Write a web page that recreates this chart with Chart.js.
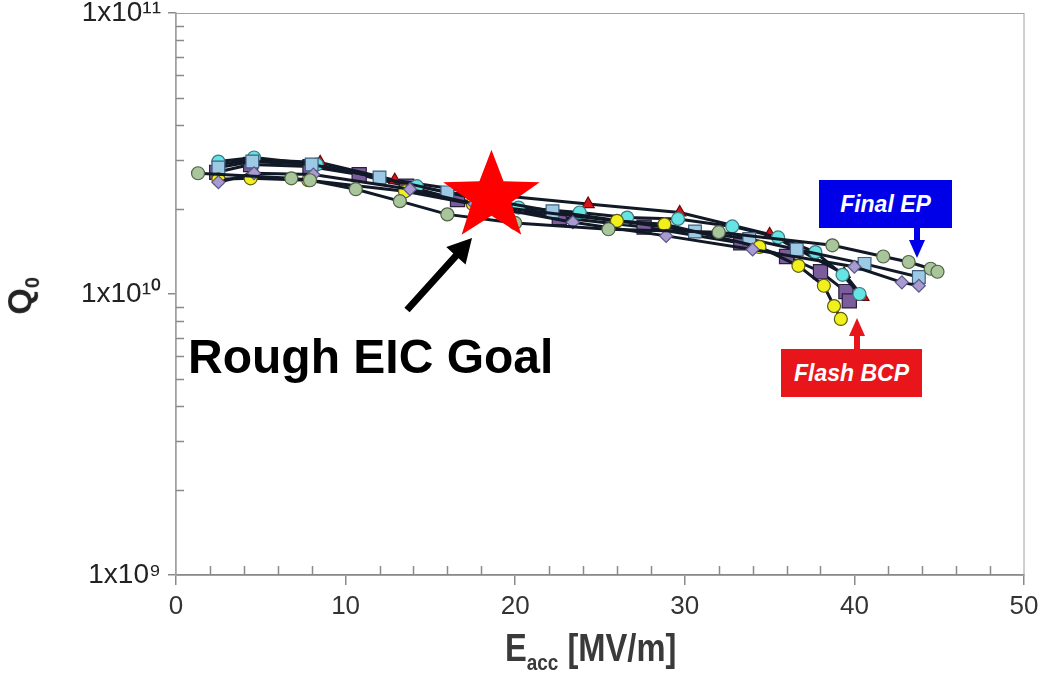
<!DOCTYPE html>
<html lang="en">
<head>
    <meta charset="UTF-8">
    <title>Q0 vs Eacc</title>
    <script src="https://cdn.jsdelivr.net/npm/chart.js"></script>
    <style>
        html, body { margin: 0; padding: 0; background: #fff; }
        #wrap { position: relative; width: 1044px; height: 682px; overflow: hidden; }
        .lbl { position: absolute; white-space: nowrap; }
        .box { position: absolute; color: #fff; font: italic bold 23px "Liberation Sans", Arial, sans-serif;
               display: flex; align-items: center; justify-content: center; }
    </style>
</head>
<body>
<div id="wrap">
    <canvas id="chart" width="1044" height="682"></canvas>

    <!-- titres des axes -->
    <div class="lbl" style="left:-10px; top:274px; width:64px; text-align:center; transform:rotate(-90deg);
         font:bold 34px 'Liberation Sans',sans-serif; color:#222;">Q<sub style="font-size:20px;">0</sub></div>
    <div class="lbl" style="left:505px; top:627px; transform:scaleX(0.86); transform-origin:left top;
         font:bold 38px 'Liberation Sans',sans-serif; color:#3a3a3a;">E<sub style="font-size:22px;">acc</sub> [MV/m]</div>

    <!-- annotations -->
    <div class="lbl" style="left:188px; top:329px; font:bold 48px 'Liberation Sans',Arial,sans-serif; color:#000;">Rough EIC Goal</div>
    <div class="box" style="left:819px; top:180px; width:133px; height:48px; background:#0000e8;">Final EP</div>
    <div class="box" style="left:781px; top:349px; width:141px; height:48px; background:#e8161a;">Flash BCP</div>
</div>

<script>
    // Données : E_acc [MV/m] et Q0 pour chaque cavité
    const eGreen = [1.3, 6.8, 7.9, 10.6, 13.2, 16.0, 20.0, 25.5, 32.0, 38.7, 41.7, 43.2, 44.5, 44.9];
    const qGreen = [2.69e10, 2.58e10, 2.54e10, 2.36e10, 2.14e10, 1.92e10, 1.79e10, 1.70e10, 1.66e10, 1.49e10, 1.36e10, 1.30e10, 1.23e10, 1.20e10];

    const eLavender = [2.5, 4.6, 8.1, 13.8, 17.6, 23.4, 28.9, 34.0, 40.0, 42.8, 43.8];
    const qLavender = [2.50e10, 2.69e10, 2.66e10, 2.36e10, 2.09e10, 1.80e10, 1.61e10, 1.44e10, 1.25e10, 1.10e10, 1.07e10];

    const eYellow = [2.5, 4.4, 7.8, 13.5, 17.5, 26.0, 28.8, 34.4, 36.7, 38.2, 38.8, 39.2];
    const qYellow = [2.56e10, 2.58e10, 2.54e10, 2.32e10, 2.09e10, 1.82e10, 1.77e10, 1.47e10, 1.26e10, 1.07e10, 0.906e10, 0.815e10];

    const eBlue = [2.5, 4.5, 8.0, 12.0, 16.0, 22.2, 30.6, 33.8, 36.6, 40.6, 43.8];
    const qBlue = [2.82e10, 2.96e10, 2.89e10, 2.60e10, 2.30e10, 1.97e10, 1.67e10, 1.57e10, 1.44e10, 1.28e10, 1.15e10];

    const eCyan = [2.5, 4.6, 8.3, 14.2, 20.2, 23.8, 26.6, 29.6, 32.8, 35.5, 37.7, 39.3, 40.3];
    const qCyan = [2.96e10, 3.06e10, 2.89e10, 2.42e10, 2.03e10, 1.95e10, 1.87e10, 1.85e10, 1.74e10, 1.59e10, 1.41e10, 1.17e10, 1.00e10];

    const eRed = [2.5, 4.5, 8.5, 12.9, 18.5, 24.3, 29.7, 35.0, 39.4, 40.5];
    const qRed = [2.89e10, 3.01e10, 2.94e10, 2.54e10, 2.26e10, 2.09e10, 1.95e10, 1.63e10, 1.18e10, 0.976e10];

    const ePurple = [2.4, 4.4, 7.9, 10.8, 13.6, 16.6, 22.6, 27.6, 33.3, 36.0, 38.0, 39.5, 39.7];
    const qPurple = [2.71e10, 2.89e10, 2.84e10, 2.66e10, 2.42e10, 2.17e10, 1.87e10, 1.73e10, 1.52e10, 1.36e10, 1.20e10, 1.02e10, 0.945e10];

    // Graduations
    const xTicks = [0, 10, 20, 30, 40, 50];
    const yTicks = [1e9, 1e10, 1e11];
    const yTickLabels = ['1x10⁹', '1x10¹⁰', '1x10¹¹'];

    // Objectif EIC (étoile)
    const goalE = 18.6;
    const goalQ = 2.22e10;

    function pts(e, q) {
        return e.map((v, i) => ({ x: v, y: q[i] }));
    }

    function serie(e, q, style, radius, fill, border) {
        return {
            data: pts(e, q),
            showLine: true,
            borderColor: '#111826',
            borderWidth: 3,
            pointStyle: style,
            pointRadius: radius,
            pointBackgroundColor: fill,
            pointBorderColor: border,
            pointBorderWidth: 1.2
        };
    }

    // Petites graduations, cadre, étoile et flèches
    const decor = {
        id: 'decor',
        beforeDatasetsDraw(chart) {
            const { ctx, chartArea: a, scales: { x, y } } = chart;
            ctx.save();
            ctx.strokeStyle = '#a0a0a0';
            ctx.lineWidth = 1;
            ctx.strokeRect(a.left, a.top + 0.5, a.right - a.left, a.bottom - a.top);
            ctx.strokeStyle = '#8a8a8a';
            ctx.lineWidth = 1.5;
            ctx.beginPath();
            for (let d = 1e9; d < 1e11; d *= 10) {
                for (let k = 2; k <= 9; k++) {
                    const py = Math.round(y.getPixelForValue(k * d)) + 0.5;
                    ctx.moveTo(a.left, py);
                    ctx.lineTo(a.left + 8, py);
                }
            }
            for (let v = 2; v < 50; v += 2) {
                if (v % 10 === 0) continue;
                const px = Math.round(x.getPixelForValue(v)) + 0.5;
                ctx.moveTo(px, a.bottom);
                ctx.lineTo(px, a.bottom - 9);
            }
            ctx.stroke();
            ctx.restore();
        },
        afterDatasetsDraw(chart) {
            const { ctx, scales: { x, y } } = chart;
            const cx = x.getPixelForValue(goalE);
            const cy = y.getPixelForValue(goalQ);
            ctx.save();
            // étoile rouge
            const R = 47, r = 19;
            ctx.fillStyle = '#ff0000';
            ctx.beginPath();
            for (let i = 0; i < 10; i++) {
                const ang = -Math.PI / 2 + i * Math.PI / 5;
                const rad = i % 2 === 0 ? R : r;
                const px = cx + rad * Math.cos(ang) * 1.08;
                const py = cy + rad * Math.sin(ang);
                if (i === 0) ctx.moveTo(px, py); else ctx.lineTo(px, py);
            }
            ctx.closePath();
            ctx.fill();

            // flèche noire vers l'étoile
            arrow(ctx, 407, 310, 472, 238, 7, 26, 24, '#000');
            // flèches des étiquettes
            arrow(ctx, 917, 228, 917, 258, 6, 16, 18, '#0000e8');
            arrow(ctx, 857, 349, 857, 318, 6, 16, 18, '#e8161a');
            ctx.restore();
        }
    };

    function arrow(ctx, x0, y0, x1, y1, w, headW, headL, color) {
        const ang = Math.atan2(y1 - y0, x1 - x0);
        const len = Math.hypot(x1 - x0, y1 - y0);
        ctx.save();
        ctx.translate(x0, y0);
        ctx.rotate(ang);
        ctx.fillStyle = color;
        ctx.beginPath();
        ctx.moveTo(0, -w / 2);
        ctx.lineTo(len - headL, -w / 2);
        ctx.lineTo(len - headL, -headW / 2);
        ctx.lineTo(len, 0);
        ctx.lineTo(len - headL, headW / 2);
        ctx.lineTo(len - headL, w / 2);
        ctx.lineTo(0, w / 2);
        ctx.closePath();
        ctx.fill();
        ctx.restore();
    }

    const ctx = document.getElementById('chart').getContext('2d');
    const chart = new Chart(ctx, {
        type: 'scatter',
        data: {
            datasets: [
                serie(eGreen, qGreen, 'circle', 6.5, '#a9c59c', '#4f6344'),
                serie(eLavender, qLavender, 'rectRot', 6.5, '#a89bd0', '#5e5688'),
                serie(eYellow, qYellow, 'circle', 6.5, '#f2f01c', '#5e5c10'),
                serie(eBlue, qBlue, 'rect', 9, '#9ccae4', '#3f5f7e'),
                serie(eCyan, qCyan, 'circle', 6.5, '#66e4e4', '#3a7a80'),
                serie(eRed, qRed, 'triangle', 7, '#d8141a', '#6a0808'),
                serie(ePurple, qPurple, 'rect', 10, '#7b5d9c', '#2a1f3a')
            ]
        },
        options: {
            responsive: false,
            animation: false,
            layout: { padding: { top: 13, right: 20, left: 0, bottom: 0 } },
            plugins: { legend: { display: false }, tooltip: { enabled: false } },
            scales: {
                x: {
                    type: 'linear',
                    min: 0,
                    max: 50,
                    afterBuildTicks: (s) => { s.ticks = xTicks.map(v => ({ value: v })); },
                    afterFit: (s) => { s.height = 107; s.paddingLeft = 0; s.paddingRight = 0; },
                    border: { color: '#8a8a8a', width: 1.5 },
                    grid: { drawOnChartArea: false, color: '#8a8a8a', lineWidth: 1.5, tickLength: 10 },
                    ticks: {
                        color: '#333',
                        padding: 6,
                        maxRotation: 0,
                        font: { family: "'Liberation Sans', sans-serif", size: 26 }
                    }
                },
                y: {
                    type: 'logarithmic',
                    min: 1e9,
                    max: 1e11,
                    afterBuildTicks: (s) => { s.ticks = yTicks.map(v => ({ value: v })); },
                    afterFit: (s) => { s.width = 176; s.paddingTop = 0; s.paddingBottom = 0; },
                    border: { color: '#a0a0a0', width: 1.5 },
                    grid: { drawOnChartArea: false, color: '#8a8a8a', lineWidth: 1.5, tickLength: 8 },
                    ticks: {
                        color: '#222',
                        padding: 7,
                        callback: (v) => yTickLabels[yTicks.indexOf(v)],
                        font: { family: "'Liberation Sans', Arial, sans-serif", size: 28 }
                    }
                }
            }
        },
        plugins: [decor]
    });
</script>
</body>
</html>
